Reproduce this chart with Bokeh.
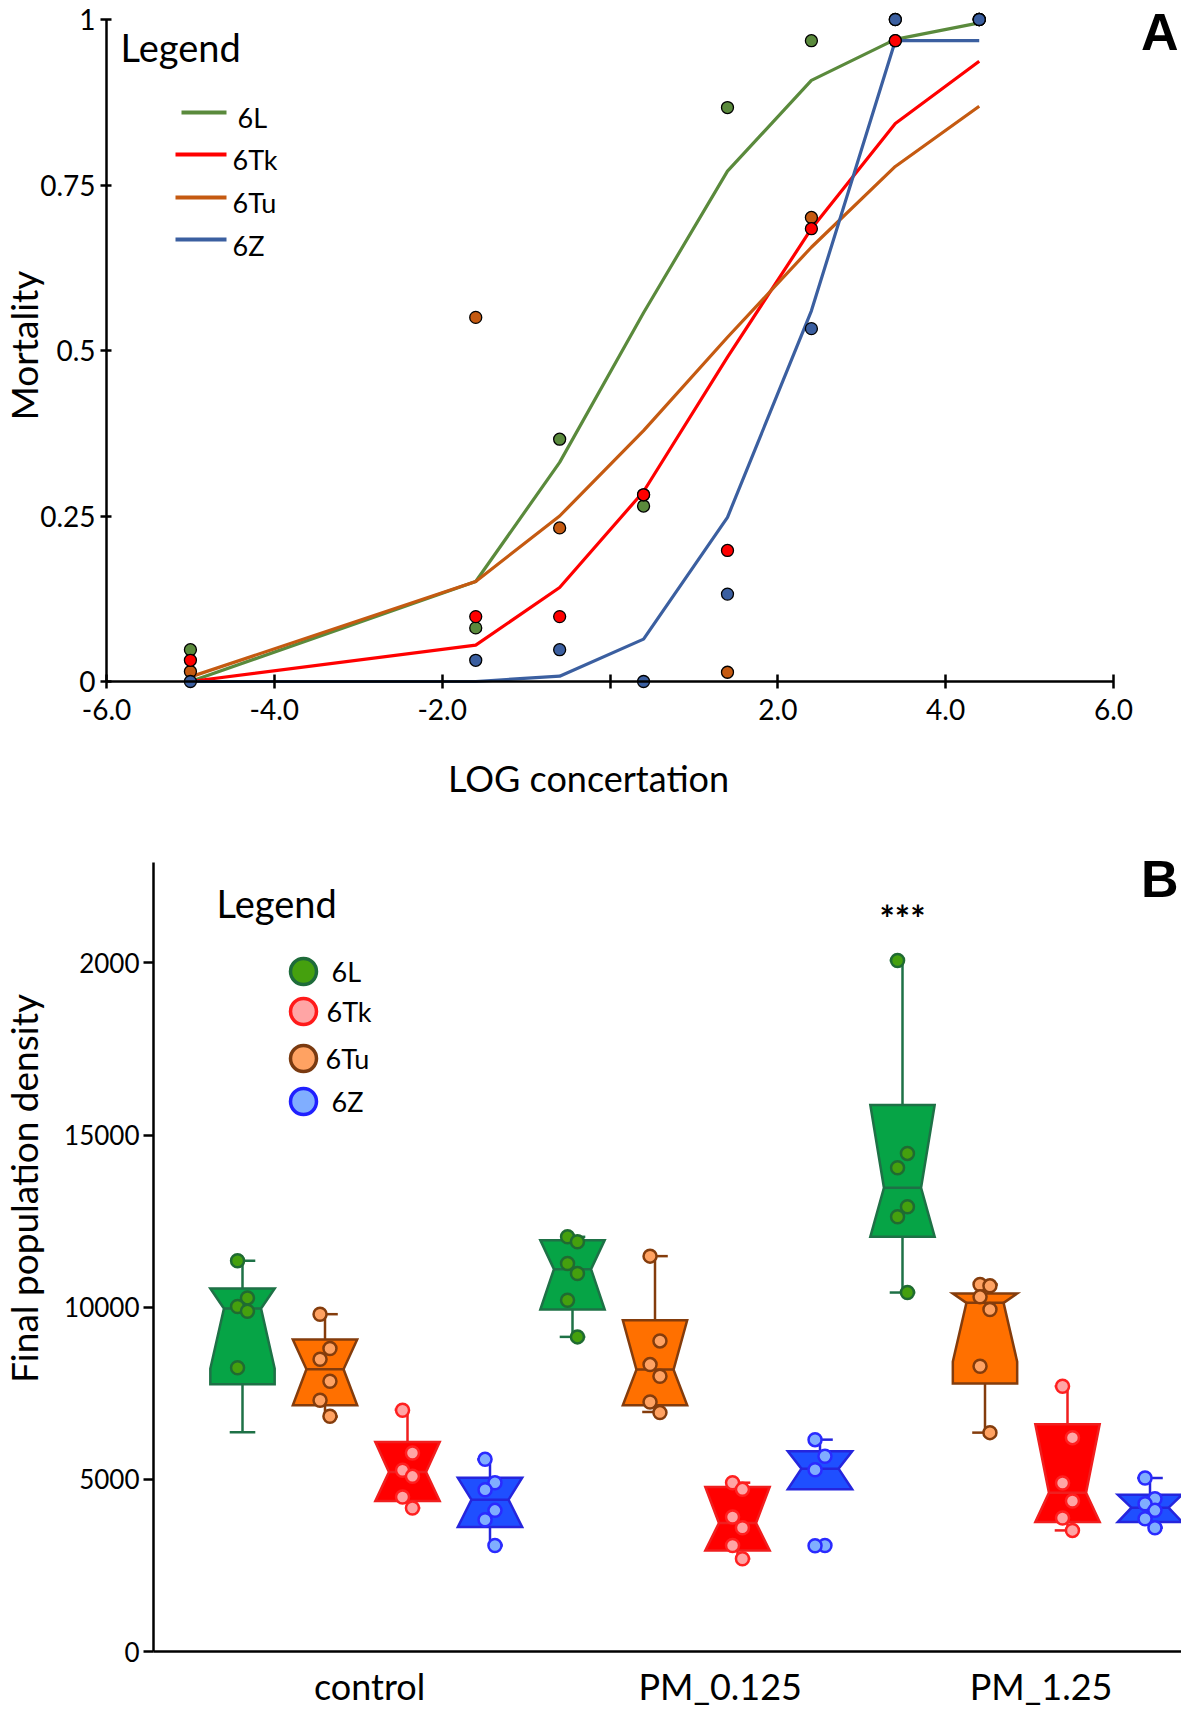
import math
from bokeh.plotting import figure
from bokeh.models import Range1d, FixedTicker, Label
from bokeh.layouts import column
from bokeh.embed import file_html
from bokeh.resources import INLINE
from bokeh.core.properties import value

FONT = "Lato"

# ---------------- Panel A data ----------------
log_conc = [-5.0, -1.6, -0.6, 0.4, 1.4, 2.4, 3.4, 4.4]
strains_a = ["6L", "6Tk", "6Tu", "6Z"]
obs_6L = [0.048, 0.081, 0.366, 0.265, 0.867, 0.968, 0.968, 1.0]
obs_6Tk = [0.032, 0.098, 0.098, 0.282, 0.198, 0.684, 0.968, 1.0]
obs_6Tu = [0.015, 0.55, 0.232, 0.282, 0.014, 0.701, 1.0, 1.0]
obs_6Z = [0.0, 0.032, 0.048, 0.0, 0.132, 0.533, 1.0, 1.0]
fit_6L = [0.0, 0.151, 0.331, 0.557, 0.771, 0.908, 0.970, 0.995]
fit_6Tk = [0.0, 0.055, 0.142, 0.287, 0.49, 0.684, 0.843, 0.937]
fit_6Tu = [0.007, 0.151, 0.25, 0.379, 0.52, 0.656, 0.778, 0.869]
fit_6Z = [0.0, 0.0, 0.008, 0.064, 0.248, 0.56, 0.968, 0.968]
mort_ticks = [0, 0.25, 0.5, 0.75, 1]
mort_tick_labels = ["0", "0.25", "0.5", "0.75", "1"]
conc_ticks = [-6, -4, -2, 0, 2, 4, 6]
conc_tick_labels = ["-6.0", "-4.0", "-2.0", "", "2.0", "4.0", "6.0"]

# ---------------- Panel B data ----------------
groups = ["control", "PM_0.125", "PM_1.25"]
strains_b = ["6L", "6Tu", "6Tk", "6Z"]          # box order inside a group
whisk_hi = [11347, 9797, 7025, 5581, 12044, 11483, 4903, 6153, 20068, 10659, 7704, 5039]
q3_vals = [10543, 9060, 6085, 5048, 11948, 9622, 4777, 5814, 15872, 10397, 6599, 4554]
med_vals = [9961, 8198, 5213, 4409, 11105, 8188, 3731, 5310, 13469, 10126, 4612, 4176]
notch_lo = [8217, 7151, 4370, 3614, 9932, 7151, 2936, 4709, 12045, 8420, 3760, 3760]
q1_vals = [7762, 7151, 4370, 3614, 9932, 7151, 2936, 4709, 12045, 7781, 3760, 3760]
whisk_lo = [6366, 6822, 4167, 3081, 9138, 6957, 2694, 4709, 10426, 6357, 3517, 3595]
points_b = [
    [11350, 10270, 10020, 9880, 8240],
    [9797, 8799, 8488, 7849, 7297, 6831],
    [7006, 5766, 5262, 5087, 4487, 4167],
    [5581, 4903, 4700, 4099, 3828, 3081],
    [12044, 11899, 11270, 10979, 10204, 9138],
    [11483, 9021, 8333, 7994, 7248, 6938],
    [4903, 4709, 3905, 3595, 3081, 2694],
    [6153, 5669, 5281, 3081, 3070],
    [20068, 14467, 14050, 12917, 12626, 10426],
    [10659, 10620, 10300, 9932, 8285, 6357],
    [7704, 6211, 4893, 4370, 3876, 3517],
    [5039, 4438, 4292, 4099, 3857, 3595],
]
density_ticks = [0, 5000, 10000, 15000, 20000]
density_tick_labels = ["0", "5000", "10000", "15000", "2000"]
signif_text = "***"

# ---------------- styles ----------------
col_a = {"6L": "#5A8A3C", "6Tk": "#FF0000", "6Tu": "#C55A11", "6Z": "#3B5FA0"}
box_fill = {"6L": "#06A446", "6Tu": "#FF7000", "6Tk": "#FF0000", "6Z": "#1F4FFF"}
box_line = {"6L": "#1E7146", "6Tu": "#843C0C", "6Tk": "#F01E1E", "6Z": "#2525DD"}
pt_fill = {"6L": "#45A00E", "6Tu": "#FFA262", "6Tk": "#FFA5A5", "6Z": "#80AEFF"}
pt_line = {"6L": "#1F6B32", "6Tu": "#843C0C", "6Tk": "#FF2020", "6Z": "#2A2AFF"}
top_cap_side = [1, 1, -1, -1, 1, 1, 1, 1, -1, 1, -1, 0]
bot_cap_side = [0, 1, 1, 1, 0, -1, 1, 1, 0, -1, -1, 1]

FIG_W = 1181
HA, HB = 800, 914

# panel A pixel frame: x=-6 at 106 px, x=6 at 1113 px; y=1 at 19 px, y=0 at 681 px
A_PXU_X = (1113 - 106) / 12.0
A_PXU_Y = (681 - 19) / 1.0
A_X0 = -6 - 106 / A_PXU_X
A_Y1 = 1 + 19 / A_PXU_Y


def ax_(px):
    return A_X0 + px / A_PXU_X


def ay_(py):
    return (681 - py) / A_PXU_Y


# panel B pixel frame (page coords): box i at 242 + 82.5*i px; value 0 at page 1651, 34.43 px per 1000
B_PXU_X = 82.5
B_PXU_Y = 0.03443
B_TOP = HA


def bx_(px):
    return (px - 242) / B_PXU_X


def by_(py):
    return (1651 - py) / B_PXU_Y


def style_axis(ax, size):
    ax.axis_line_color = "black"
    ax.axis_line_width = 2.5
    ax.major_tick_line_color = "black"
    ax.major_tick_line_width = 2.5
    ax.minor_tick_line_color = None
    ax.major_label_text_font = FONT
    ax.major_label_text_font_size = size
    ax.major_label_text_color = "black"


def base_fig(h, xr, yr):
    p = figure(width=FIG_W, height=h, output_backend="svg", toolbar_location=None,
               x_range=Range1d(*xr), y_range=Range1d(*yr),
               min_border=0, min_border_left=0, min_border_right=0,
               min_border_top=0, min_border_bottom=0)
    p.outline_line_color = None
    p.xgrid.visible = False
    p.ygrid.visible = False
    p.background_fill_color = "white"
    return p


# ================= Panel A =================
pa = base_fig(HA, (A_X0, ax_(FIG_W)), (ay_(HA), A_Y1))

xa = pa.xaxis[0]
style_axis(xa, "28px")
xa.fixed_location = 0
xa.bounds = (-6, 6)
xa.ticker = FixedTicker(ticks=conc_ticks)
xa.major_label_overrides = {t: l for t, l in zip(conc_ticks, conc_tick_labels)}
xa.major_tick_in = 7
xa.major_tick_out = 7
xa.major_label_standoff = 10

ya = pa.yaxis[0]
style_axis(ya, "28px")
ya.fixed_location = -6
ya.bounds = (0, 1)
ya.ticker = FixedTicker(ticks=mort_ticks)
ya.major_label_overrides = {t: l for t, l in zip(mort_ticks, mort_tick_labels)}
ya.major_tick_in = 5
ya.major_tick_out = 6
ya.major_label_standoff = 5

fits = {"6L": fit_6L, "6Tk": fit_6Tk, "6Tu": fit_6Tu, "6Z": fit_6Z}
obs = {"6L": obs_6L, "6Tk": obs_6Tk, "6Tu": obs_6Tu, "6Z": obs_6Z}
for s in ["6L", "6Tk", "6Tu", "6Z"]:
    pa.line(log_conc, fits[s], line_color=col_a[s], line_width=3.2)
for s in ["6L", "6Tu", "6Tk", "6Z"]:
    pa.scatter(log_conc, obs[s], size=12, fill_color=col_a[s], line_color="black", line_width=1.3)

# legend A
leg_line_y = [ay_(v) for v in (112, 154, 197, 239)]
leg_x0 = [ax_(v) for v in (181, 175, 175, 175)]
pa.segment(x0=leg_x0, y0=leg_line_y, x1=[ax_(226)] * 4, y1=leg_line_y,
           line_color=[col_a[s] for s in strains_a], line_width=4)
pa.text(x=[ax_(v) for v in (237, 232, 232, 232)], y=[ay_(v) for v in (117, 159, 202, 245)],
        text=strains_a, text_font=value(FONT), text_font_size=value("27px"),
        text_baseline="middle", text_color="black")
pa.add_layout(Label(x=ax_(120), y=ay_(46), text="Legend", text_font=FONT, text_font_size="38px",
                    text_baseline="middle", text_align="left", text_color="black"))
pa.add_layout(Label(x=ax_(588), y=ay_(777), text="LOG concertation", text_font=FONT,
                    text_font_size="36px", text_baseline="middle", text_align="center",
                    text_color="black"))
pa.add_layout(Label(x=ax_(23), y=ay_(345), text="Mortality", text_font=FONT, angle=math.pi / 2,
                    text_font_size="37px", text_baseline="middle", text_align="center",
                    text_color="black"))
pa.add_layout(Label(x=ax_(1178), y=ay_(2), text="A", text_font="Liberation Sans",
                    text_font_style="bold", text_font_size="52px", text_baseline="top",
                    text_align="right", text_color="black"))

# ================= Panel B =================
pb = base_fig(HB, (bx_(0), bx_(FIG_W)), (by_(B_TOP + HB), by_(B_TOP)))

label_pos = [1.54, 5.79, 9.68]
xb = pb.xaxis[0]
style_axis(xb, "36px")
xb.fixed_location = 0
xb.bounds = (bx_(153), bx_(FIG_W))
xb.ticker = FixedTicker(ticks=label_pos)
xb.major_label_overrides = {t: g for t, g in zip(label_pos, groups)}
xb.major_tick_line_color = None
xb.major_tick_in = 0
xb.major_tick_out = 0
xb.major_label_standoff = 12

yb = pb.yaxis[0]
style_axis(yb, "26px")
yb.fixed_location = bx_(153)
yb.bounds = (0, by_(862))
yb.ticker = FixedTicker(ticks=density_ticks)
yb.major_label_overrides = {t: l for t, l in zip(density_ticks, density_tick_labels)}
yb.major_tick_in = 0
yb.major_tick_out = 10
yb.major_label_standoff = 4

W = 0.78
NW = 0.45
CAP = 0.155
xs, ys, fills, lines = [], [], [], []
wx0, wy0, wx1, wy1, wcol = [], [], [], [], []
mx0, mx1, my, mcol = [], [], [], []
px, py, pf, pl = [], [], [], []
for gi in range(len(groups)):
    for si, s in enumerate(strains_b):
        i = gi * len(strains_b) + si
        c = i
        h = W / 2
        n = NW / 2
        xs.append([c - h, c + h, c + n, c + h, c + h, c - h, c - h, c - n])
        ys.append([q3_vals[i], q3_vals[i], med_vals[i], notch_lo[i], q1_vals[i], q1_vals[i],
                   notch_lo[i], med_vals[i]])
        fills.append(box_fill[s])
        lines.append(box_line[s])
        mx0.append(c - n); mx1.append(c + n); my.append(med_vals[i]); mcol.append(box_line[s])
        if whisk_hi[i] > q3_vals[i]:
            wx0.append(c); wy0.append(q3_vals[i]); wx1.append(c); wy1.append(whisk_hi[i]); wcol.append(box_line[s])
            sd = top_cap_side[i]
            a, b = (c - CAP, c + CAP) if sd == 0 else ((c, c + CAP) if sd > 0 else (c - CAP, c))
            wx0.append(a); wy0.append(whisk_hi[i]); wx1.append(b); wy1.append(whisk_hi[i]); wcol.append(box_line[s])
        if whisk_lo[i] < q1_vals[i]:
            wx0.append(c); wy0.append(q1_vals[i]); wx1.append(c); wy1.append(whisk_lo[i]); wcol.append(box_line[s])
            sd = bot_cap_side[i]
            a, b = (c - CAP, c + CAP) if sd == 0 else ((c, c + CAP) if sd > 0 else (c - CAP, c))
            wx0.append(a); wy0.append(whisk_lo[i]); wx1.append(b); wy1.append(whisk_lo[i]); wcol.append(box_line[s])
        for k, v in enumerate(points_b[i]):
            px.append(c + (0.06 if k % 2 else -0.06))
            py.append(v)
            pf.append(pt_fill[s])
            pl.append(pt_line[s])

pb.segment(x0=wx0, y0=wy0, x1=wx1, y1=wy1, line_color=wcol, line_width=2.5)
pb.patches(xs, ys, fill_color=fills, line_color=lines, line_width=2.5, line_join="miter")
pb.segment(x0=mx0, y0=my, x1=mx1, y1=my, line_color=mcol, line_width=2.5)
pb.scatter(px, py, size=13, fill_color=pf, line_color=pl, line_width=2.5)

# legend B
leg_order = ["6L", "6Tk", "6Tu", "6Z"]
leg_y = [by_(v) for v in (971, 1011, 1058, 1101)]
leg_line_b = {"6L": "#1E6B3A", "6Tk": "#FF1A1A", "6Tu": "#7A3A10", "6Z": "#2020FF"}
pb.scatter([bx_(303)] * 4, leg_y, size=26, fill_color=[pt_fill[s] for s in leg_order],
           line_color=[leg_line_b[s] for s in leg_order], line_width=3.5)
pb.text(x=[bx_(v) for v in (331, 326, 325, 331)], y=leg_y, text=leg_order, text_font=value(FONT),
        text_font_size=value("27px"), text_baseline="middle", text_color="black")
pb.add_layout(Label(x=bx_(216), y=by_(902), text="Legend", text_font=FONT, text_font_size="38px",
                    text_baseline="middle", text_align="left", text_color="black"))
pb.add_layout(Label(x=8.0, y=by_(917), text=signif_text, text_font=FONT, text_font_style="bold",
                    text_font_size="36px", text_baseline="middle", text_align="center",
                    text_color="black"))
pb.add_layout(Label(x=bx_(23), y=by_(1188), text="Final population density", text_font=FONT,
                    angle=math.pi / 2, text_font_size="37px", text_baseline="middle",
                    text_align="center", text_color="black"))
pb.add_layout(Label(x=bx_(1178), y=by_(849), text="B", text_font="Liberation Sans",
                    text_font_style="bold", text_font_size="52px", text_baseline="top",
                    text_align="right", text_color="black"))

layout = column(pa, pb, spacing=0)
open("out.html", "w").write(file_html(layout, INLINE))
